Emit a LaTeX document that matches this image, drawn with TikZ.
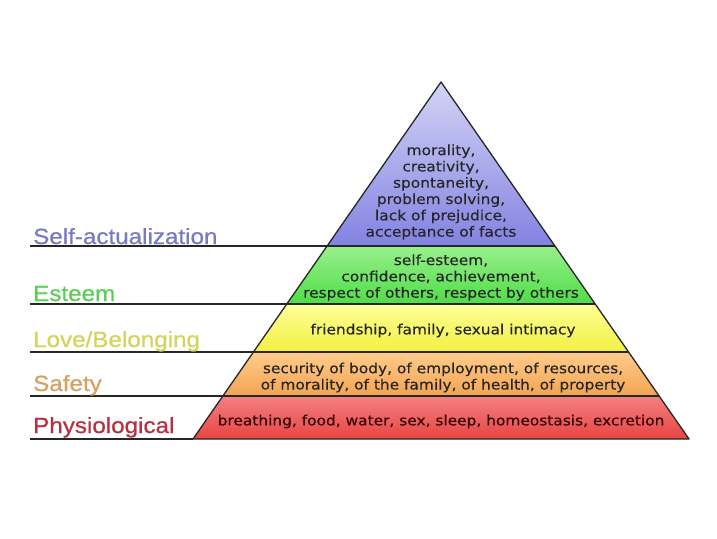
\documentclass[tikz,border=0pt]{standalone}
\usepackage{fontspec}
\newfontfamily\lblfont[FakeStretch=1.1,FakeBold=0.6]{Liberation Sans}
\newfontfamily\pyrfont[FakeStretch=1.1,FakeBold=0.3]{DejaVu Sans}
\definecolor{saC}{HTML}{7878C4}
\definecolor{esC}{HTML}{58D050}
\definecolor{loC}{HTML}{D4D45C}
\definecolor{sfC}{HTML}{D8A060}
\definecolor{phC}{HTML}{B83040}
\definecolor{saT}{HTML}{D4D4F6}
\definecolor{saB}{HTML}{8282E2}
\definecolor{esT}{HTML}{98F08C}
\definecolor{esB}{HTML}{50DC48}
\definecolor{loT}{HTML}{FFFF98}
\definecolor{loB}{HTML}{F0F040}
\definecolor{sfT}{HTML}{FFCC8C}
\definecolor{sfB}{HTML}{F2A452}
\definecolor{phT}{HTML}{F48080}
\definecolor{phB}{HTML}{E84444}
\tikzset{
  lbl/.style={anchor=base west, inner sep=0pt, font=\lblfont\fontsize{22}{24}\selectfont},
  ptxt/.style={align=center, inner sep=0pt, font=\pyrfont\fontsize{14}{16.3}\selectfont},
  edge/.style={line width=1.3pt, black!85, line join=round},
  layer/.style={draw=black!85, line width=1.3pt, line join=round}
}
\begin{document}
\begin{tikzpicture}[x=1pt,y=-1pt]
\useasboundingbox[fill=white] (0,0) rectangle (717,538);
% pyramid corners
\coordinate (apex) at (441,82);
\coordinate (L1) at (327.1,246); \coordinate (R1) at (554.9,246);
\coordinate (L2) at (286.8,304); \coordinate (R2) at (595.2,304);
\coordinate (L3) at (253.4,352); \coordinate (R3) at (628.6,352);
\coordinate (L4) at (222.9,396); \coordinate (R4) at (659.1,396);
\coordinate (L5) at (193,439);   \coordinate (R5) at (689,439);
% left line starts
\coordinate (S1) at (30,246);
\coordinate (S2) at (30,304);
\coordinate (S3) at (30,352);
\coordinate (S4) at (30,396);
\coordinate (S5) at (30,439);
% layers
\shade[top color=saT, bottom color=saB] (apex) -- (R1) -- (L1) -- cycle;
\shade[top color=esT, bottom color=esB] (L1) -- (R1) -- (R2) -- (L2) -- cycle;
\shade[top color=loT, bottom color=loB] (L2) -- (R2) -- (R3) -- (L3) -- cycle;
\shade[top color=sfT, bottom color=sfB] (L3) -- (R3) -- (R4) -- (L4) -- cycle;
\shade[top color=phT, bottom color=phB] (L4) -- (R4) -- (R5) -- (L5) -- cycle;
\draw[layer] (apex) -- (R5) -- (L5) -- cycle;
\draw[edge] (S1) -- (R1);
\draw[edge] (S2) -- (R2);
\draw[edge] (S3) -- (R3);
\draw[edge] (S4) -- (R4);
\draw[edge] (S5) -- (L5);
% labels
\node[lbl, text=saC] (lsa) at (33,244) {Self-actualization};
\node[lbl, text=esC] (les) at (33,301) {Esteem};
\node[lbl, text=loC] (llo) at (33,347) {Love/Belonging};
\node[lbl, text=sfC] (lsf) at (33,391) {Safety};
\node[lbl, text=phC] (lph) at (33,433) {Physiological};
% pyramid texts
\node[ptxt, text=black!85] (tsa) at (441,192) {morality,\\creativity,\\spontaneity,\\problem solving,\\lack of prejudice,\\acceptance of facts};
\node[ptxt, text=black!85] (tes) at (441,277.5) {self-esteem,\\confidence, achievement,\\respect of others, respect by others};
\node[ptxt, text=black!85] (tlo) at (443,330.5) {friendship, family, sexual intimacy};
\node[ptxt, text=black!85] (tsf) at (443,377.5) {security of body, of employment, of resources,\\of morality, of the family, of health, of property};
\node[ptxt, text=black!80!red] (tph) at (441,421.5) {breathing, food, water, sex, sleep, homeostasis, excretion};
\end{tikzpicture}
\end{document}
